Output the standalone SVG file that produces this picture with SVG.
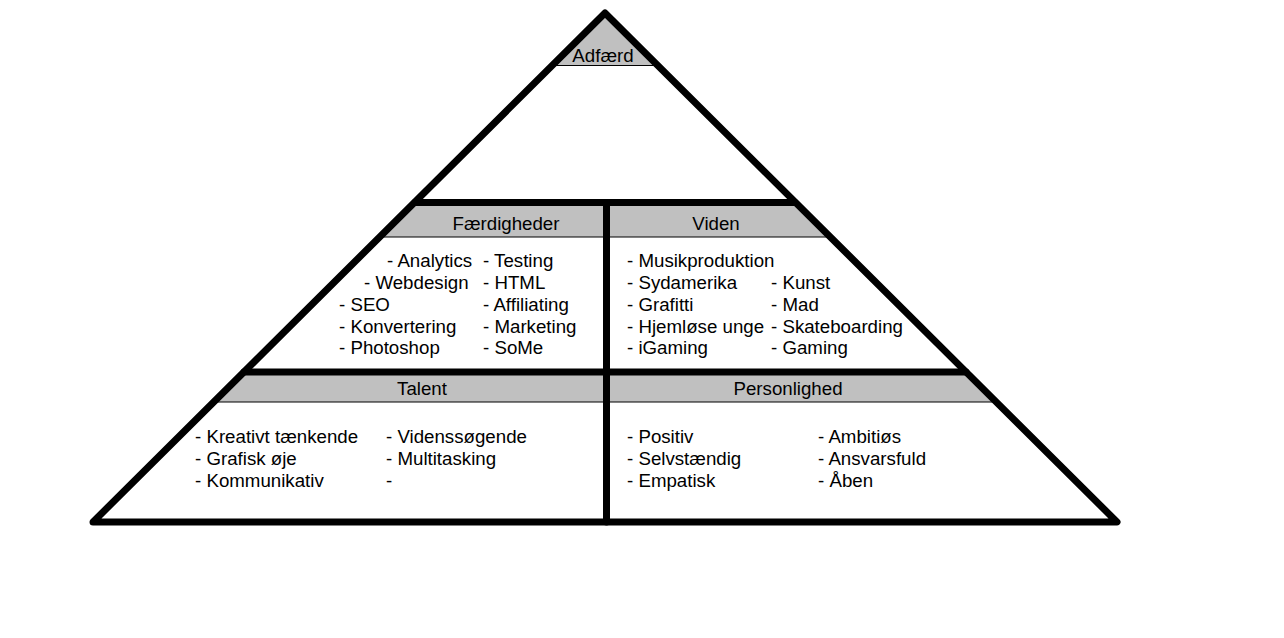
<svg xmlns="http://www.w3.org/2000/svg" width="1284" height="638" viewBox="0 0 1284 638">
  <style>
    text { font-family: "Liberation Sans", Arial, sans-serif; font-size: 18.7px; fill: #000; }
    .hdr { text-anchor: middle; }
    .band { fill: #C0C0C0; stroke: none; }
    .thin { stroke: #000; stroke-width: 1.2; fill: none; }
    .thick { stroke: #000; stroke-width: 7; fill: none; stroke-linecap: round; stroke-linejoin: round; }
  </style>
  <rect width="1284" height="638" fill="#fff"/>

  <g id="adfaerd">
    <polygon class="band" points="605,13 553,65.5 657,65.5"/>
    <line class="thin" x1="553" y1="65.5" x2="657" y2="65.5"/>
    <text class="hdr" x="603" y="62">Adfærd</text>
  </g>

  <g id="faerdigheder">
    <polygon class="band" points="415,202 606,202 606,237 380,237"/>
    <line class="thin" x1="380" y1="237" x2="606" y2="237"/>
    <text class="hdr" x="506" y="230">Færdigheder</text>
    <text x="387" y="267">- Analytics</text>
    <text x="364" y="289">- Webdesign</text>
    <text x="339" y="310.5">- SEO</text>
    <text x="339" y="332.5">- Konvertering</text>
    <text x="339" y="354">- Photoshop</text>
    <text x="483" y="267">- Testing</text>
    <text x="483" y="289">- HTML</text>
    <text x="483" y="310.5">- Affiliating</text>
    <text x="483" y="332.5">- Marketing</text>
    <text x="483" y="354">- SoMe</text>
  </g>

  <g id="viden">
    <polygon class="band" points="606,202 795,202 830,237 606,237"/>
    <line class="thin" x1="606" y1="237" x2="830" y2="237"/>
    <text class="hdr" x="716" y="230">Viden</text>
    <text x="627" y="267">- Musikproduktion</text>
    <text x="627" y="289">- Sydamerika</text>
    <text x="627" y="310.5">- Grafitti</text>
    <text x="627" y="332.5">- Hjemløse unge</text>
    <text x="627" y="354">- iGaming</text>
    <text x="771" y="289">- Kunst</text>
    <text x="771" y="310.5">- Mad</text>
    <text x="771" y="332.5">- Skateboarding</text>
    <text x="771" y="354">- Gaming</text>
  </g>

  <g id="talent">
    <polygon class="band" points="244,372 606,372 606,402 214,402"/>
    <line class="thin" x1="214" y1="402" x2="606" y2="402"/>
    <text class="hdr" x="422" y="395">Talent</text>
    <text x="195" y="443">- Kreativt tænkende</text>
    <text x="195" y="465">- Grafisk øje</text>
    <text x="195" y="487">- Kommunikativ</text>
    <text x="386" y="443">- Videnssøgende</text>
    <text x="386" y="465">- Multitasking</text>
    <text x="386" y="487">-</text>
  </g>

  <g id="personlighed">
    <polygon class="band" points="606,372 966,372 996,402 606,402"/>
    <line class="thin" x1="606" y1="402" x2="996" y2="402"/>
    <text class="hdr" x="788" y="395">Personlighed</text>
    <text x="627" y="443">- Positiv</text>
    <text x="627" y="465">- Selvstændig</text>
    <text x="627" y="487">- Empatisk</text>
    <text x="818" y="443">- Ambitiøs</text>
    <text x="818" y="465">- Ansvarsfuld</text>
    <text x="818" y="487">- Åben</text>
  </g>

  <g id="connectors">
    <polygon class="thick" points="605,13 1117,522 93,522"/>
    <line class="thick" x1="415" y1="202.5" x2="795" y2="202.5"/>
    <line class="thick" x1="244" y1="372" x2="966" y2="372"/>
    <line class="thick" x1="606.5" y1="202.5" x2="606.5" y2="522"/>
  </g>
</svg>
